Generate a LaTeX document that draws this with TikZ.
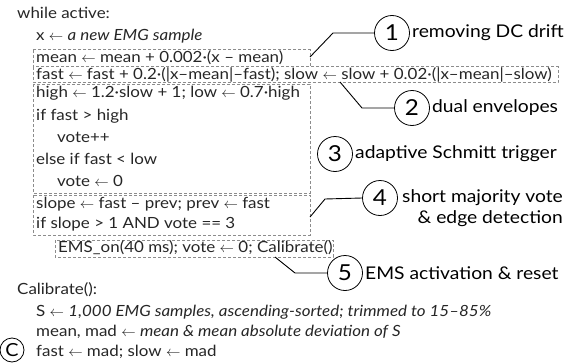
\documentclass[tikz,border=0pt]{standalone}
\usepackage{fontspec}
\setmainfont{Lato}[FakeStretch=1.1]
\newcommand{\lar}{\ensuremath{\leftarrow}}
\newcommand{\cdt}{\textperiodcentered}
\begin{document}
\begin{tikzpicture}[x=1pt,y=-1pt,
  code/.style={font=\fontsize{15.4}{18}\selectfont, inner sep=0pt, anchor=base west, text=black!85},
  lbl/.style={font=\fontsize{17.5}{21}\selectfont, inner sep=0pt, anchor=west},
  num/.style={circle, draw, line width=0.8pt, minimum size=35pt, inner sep=0pt, font=\fontsize{22}{22}\selectfont},
  dbox/.style={draw=black!45, dash pattern=on 3pt off 2pt, line width=0.7pt},
  lead/.style={draw, line width=0.9pt}]
\useasboundingbox (0,0) rectangle (581,364);
% dashed boxes
\draw[dbox] (33,49.5) rectangle (310,66.5);
\draw[dbox] (33,66.5) rectangle (558,82);
\draw[dbox] (33,84) rectangle (310,193);
\draw[dbox] (33,195) rectangle (310,235);
\draw[dbox] (55,240) rectangle (333,257);
% code
\node[code] (l1) at (17,19) {while active:};
\node[code] (l2) at (36,40) {x \lar\ \textit{a new EMG sample}};
\node[code] (l3) at (36,62) {mean \lar\ mean + 0.002\cdt(x – mean)};
\node[code] (l4) at (36,79) {fast \lar\ fast + 0.2\cdt(|x–mean|–fast); slow \lar\ slow + 0.02\cdt(|x–mean|–slow)};
\node[code] (l5) at (36,97) {high \lar\ 1.2\cdt slow + 1; low \lar\ 0.7\cdt high};
\node[code] (l6) at (36,120) {if fast > high};
\node[code] (l7) at (57,142) {vote++};
\node[code] (l8) at (36,164) {else if fast < low};
\node[code] (l9) at (57,186) {vote \lar\ 0};
\node[code] (l10) at (36,208) {slope \lar\ fast – prev; prev \lar\ fast};
\node[code] (l11) at (36,228) {if slope > 1 AND vote == 3};
\node[code] (l12) at (58,252) {EMS\_on(40 ms); vote \lar\ 0; Calibrate()};
\node[code] (l13) at (17,294) {Calibrate():};
\node[code] (l14) at (36,316) {S \lar\ \textit{1,000 EMG samples, ascending-sorted; trimmed to 15–85\%}};
\node[code] (l15) at (36,336) {mean, mad \lar\ \textit{mean \& mean absolute deviation of S}};
\node[code] (l16) at (36,356) {fast \lar\ mad; slow \lar\ mad};
% callouts
\node[num] (c1) at (392,33) {1};
\node[lbl] (t1) at (412,33) {removing DC drift};
\node[num] (c2) at (412,108) {2};
\node[lbl] (t2) at (432,108) {dual envelopes};
\node[num] (c3) at (335,154) {3};
\node[lbl] (t3) at (355,154) {adaptive Schmitt trigger};
\node[num] (c4) at (380,198) {4};
\node[lbl, anchor=north east, align=right] (t4) at (563,189) {short majority vote\\\& edge detection};
\node[num] (c5) at (345,273) {5};
\node[lbl] (t5) at (365,273) {EMS activation \& reset};
\node[num, minimum size=24pt, font=\fontsize{18}{18}\selectfont] (cc) at (12,350) {C};
% leaders
\coordinate (a1) at (310,57);
\coordinate (a2) at (340,82);
\coordinate (a4) at (310,217);
\coordinate (a5) at (275,257);
\draw[lead] (a1) -- (333,33) -- (c1.west);
\draw[lead] (a2) -- (362,108) -- (c2.west);
\draw[lead] (a4) -- (325,199) -- (c4.west);
\draw[lead] (a5) -- (295,273) -- (c5.west);
\end{tikzpicture}
\end{document}
